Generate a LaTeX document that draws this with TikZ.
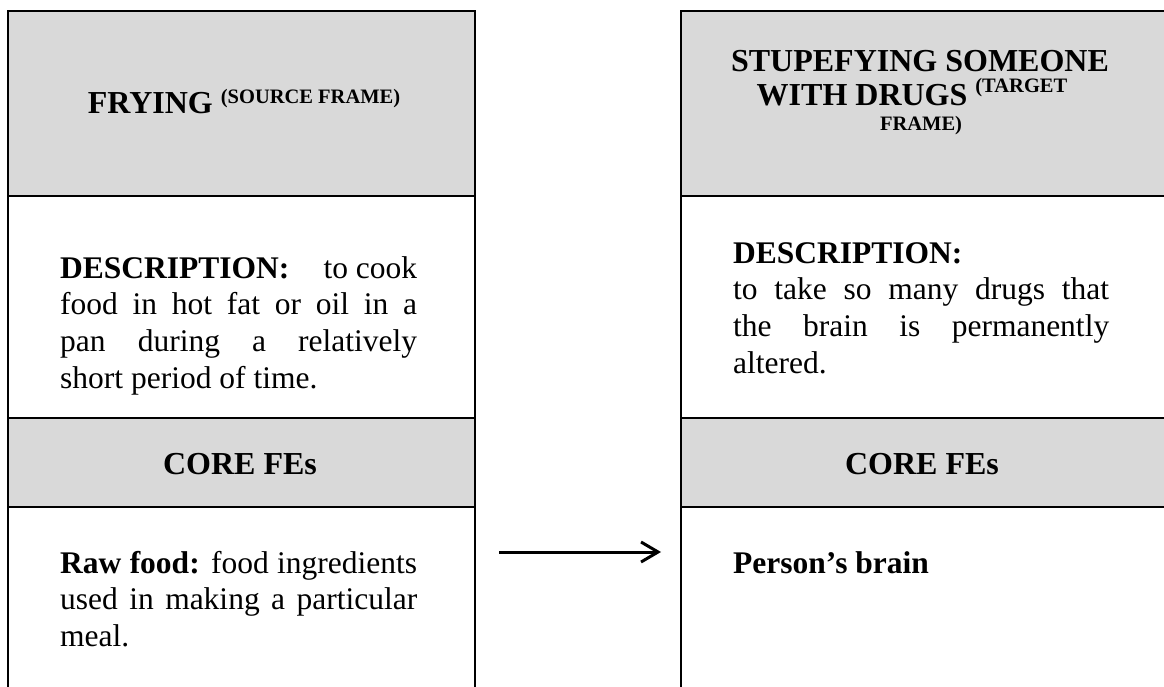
\documentclass[tikz,border=0pt]{standalone}
\usepackage{fontspec}
\setmainfont{Liberation Serif}
\usetikzlibrary{arrows.meta}
\definecolor{cellgray}{RGB}{217,217,217}
% one justified line: the spaces stretch (or shrink) to fill the column
\newcommand\jline[1]{\hbox to\hsize{\spaceskip=.25em plus 1fil minus .08em\relax #1}}
% one ragged (last) line
\newcommand\lline[1]{\hbox{#1}}
\begin{document}
\begin{tikzpicture}[x=1pt,y=-1pt,
  rule/.style={draw=black,line width=2.6pt},
  head/.style={font=\fontsize{32}{36.7}\selectfont\bfseries,inner sep=0pt,anchor=base},
  body/.style={font=\fontsize{31.5}{36.7}\selectfont,inner sep=0pt,anchor=base west},
  link/.style={line width=3pt,-{Straight Barb[length=17pt,width=20pt,line width=3pt]}}]
\useasboundingbox (0,0) rectangle (1164,687);
\clip (0,0) rectangle (1164,687);

% source frame table
\fill[cellgray] (8,11) rectangle (475,196);
\fill[cellgray] (8,418) rectangle (475,507);
\draw[rule] (8,700) -- (8,11) -- (475,11) -- (475,700);
\draw[rule] (8,196) -- (475,196);
\draw[rule] (8,418) -- (475,418);
\draw[rule] (8,507) -- (475,507);

% target frame table
\fill[cellgray] (681,11) rectangle (1180,196);
\fill[cellgray] (681,418) rectangle (1180,507);
\draw[rule] (681,700) -- (681,11) -- (1180,11);
\draw[rule] (681,196) -- (1180,196);
\draw[rule] (681,418) -- (1180,418);
\draw[rule] (681,507) -- (1180,507);

% headings
\node[head] (srctitle) at (244,114)
  {FRYING \raisebox{10pt}{\fontsize{20.5}{24}\selectfont (SOURCE FRAME)}};
\node[head] (tgttitleA) at (920,72) {STUPEFYING SOMEONE};
\node[head] (tgttitleB) at (912,106)
  {WITH DRUGS \raisebox{13pt}{\fontsize{20.5}{24}\selectfont (TARGET}};
\node[head] (tgttitleC) at (921,131) {\fontsize{20.5}{24}\selectfont FRAME)};

% descriptions
\node[body] (srcdesc) at (60,278) {\vtop{\hsize=357pt
  \hbox to\hsize{\textbf{DESCRIPTION:}\hfill to cook}
  \jline{food in hot fat or oil in a}
  \jline{pan during a relatively}
  \lline{short period of time.}}};
\node[body] (tgtdesc) at (733,263) {\vtop{\hsize=376pt
  \lline{\textbf{DESCRIPTION:}}
  \jline{to take so many drugs that}
  \jline{the brain is permanently}
  \lline{altered.}}};

% core FE headings
\node[head] (srccore) at (240,474) {CORE FEs};
\node[head] (tgtcore) at (922,474) {CORE FEs};

% core FE entries
\node[body] (srcfe) at (60,573) {\vtop{\hsize=357pt
  \jline{\textbf{Raw food:} food ingredients}
  \jline{used in making a particular}
  \lline{meal.}}};
\node[body] (tgtfe) at (733,573) {\textbf{Person’s brain}};

% mapping arrow
\coordinate (maptail) at (499,552);
\coordinate (maphead) at (661,552);
\draw[link] (maptail) -- (maphead);
\end{tikzpicture}
\end{document}
